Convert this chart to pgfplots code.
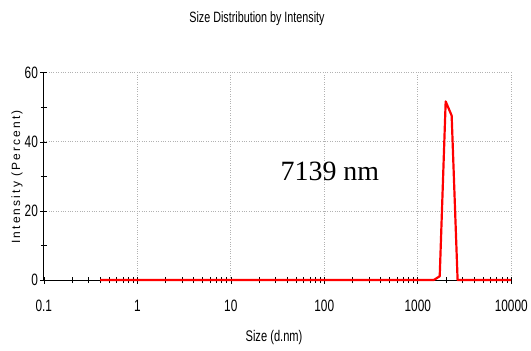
\documentclass[border=0pt]{standalone}
\usepackage{fontspec}
\setmainfont{Liberation Serif}
\newfontfamily\cond[FakeStretch=0.72]{Liberation Sans}
\newfontfamily\spaced[LetterSpace=18]{Liberation Sans}
\usepackage{pgfplots}
\pgfplotsset{compat=1.18}
\begin{document}
\begin{tikzpicture}
\begin{axis}[
  at={(0,0)}, anchor=south west,
  scale only axis,
  width=469bp, height=208bp,
  xmode=log,
  xmin=0.1, xmax=10000,
  ymin=0, ymax=60,
  axis x line=bottom, axis y line=left,
  axis line style={-, black, line width=0.8bp},
  xtick={0.1,1,10,100,1000,10000},
  xticklabels={0.1,1,10,100,1000,10000},
  ytick={0,20,40,60},
  minor ytick={10,30,50},
  tick align=center,
  major tick length=7bp, minor tick length=6bp,
  tick style={black, line width=0.6bp},
  grid=major,
  major grid style={dotted, gray!60, line width=0.7bp},
  /pgf/number format/assume math mode=true,
  ticklabel style={font=\cond\fontsize{16.5bp}{18bp}\selectfont},
  xticklabel style={yshift=-13bp},
  yticklabel style={xshift=1bp},
  title={Size Distribution by Intensity},
  title style={font=\cond\fontsize{15bp}{17bp}\selectfont, at={(axis description cs:0.456,1.231)}, anchor=center},
  xlabel={Size (d.nm)},
  xlabel style={font=\cond\fontsize{15.5bp}{17bp}\selectfont, at={(axis description cs:0.4925,-0.279)}, anchor=center},
  ylabel={Intensity (Percent)},
  ylabel style={font=\spaced\fontsize{12bp}{14bp}\selectfont, at={(axis description cs:-0.0576,0.4976)}, anchor=center, rotate=0},
  clip=false,
]
\addplot[red, line width=2.2bp, line join=round] coordinates {
  (0.4,0) (1,0) (10,0) (100,0) (1000,0) (1484,0)
  (1718,1.1) (1990,51.7) (2305,47.6) (2669,0)
  (3091,0) (5000,0) (10000,0)
};
\node[font=\fontsize{28bp}{30bp}\selectfont, anchor=center] at (axis description cs:0.612,0.524) {7139 nm};
\end{axis}
\path (-44bp,-71bp) rectangle (487bp,281bp);
\end{tikzpicture}
\end{document}
